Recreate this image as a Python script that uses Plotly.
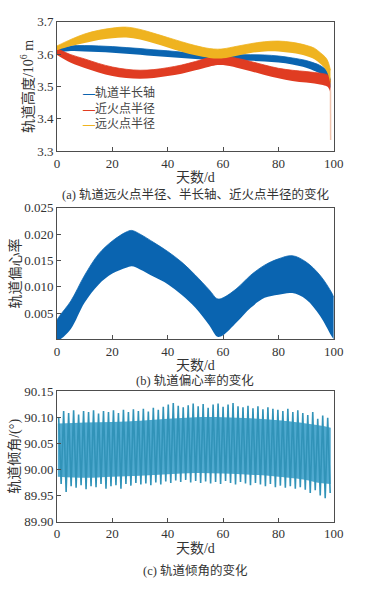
import plotly.graph_objects as go

# ---------------- data ----------------
# Panel (a): orbital radii bands, 10^6 m
a_days = [0, 5, 10, 15, 20, 25, 30, 35, 40, 45, 50, 55, 58, 60, 65, 70, 75, 80, 85, 90, 93, 95, 97, 98, 98.8]
sma_hi = [3.615, 3.625, 3.626, 3.625, 3.623, 3.620, 3.617, 3.613, 3.610, 3.606, 3.603, 3.600, 3.598,
          3.598, 3.598, 3.598, 3.597, 3.594, 3.588, 3.580, 3.572, 3.565, 3.553, 3.540, 3.520]
sma_lo = [3.603, 3.609, 3.608, 3.606, 3.604, 3.601, 3.598, 3.594, 3.591, 3.588, 3.585, 3.582, 3.580,
          3.580, 3.580, 3.579, 3.577, 3.574, 3.568, 3.558, 3.548, 3.540, 3.525, 3.510, 3.495]
peri_hi = [3.617, 3.598, 3.585, 3.571, 3.560, 3.553, 3.550, 3.552, 3.558, 3.566, 3.577, 3.589, 3.593,
           3.593, 3.587, 3.577, 3.566, 3.556, 3.550, 3.546, 3.543, 3.541, 3.538, 3.534, 3.515]
peri_lo = [3.597, 3.573, 3.557, 3.543, 3.532, 3.526, 3.524, 3.526, 3.532, 3.539, 3.550, 3.561, 3.566,
           3.566, 3.558, 3.547, 3.535, 3.525, 3.517, 3.512, 3.509, 3.506, 3.502, 3.497, 3.480]
apo_hi = [3.625, 3.645, 3.662, 3.673, 3.680, 3.683, 3.676, 3.664, 3.651, 3.638, 3.626, 3.617, 3.615,
          3.616, 3.624, 3.632, 3.638, 3.640, 3.636, 3.627, 3.618, 3.605, 3.590, 3.575, 3.550]
apo_lo = [3.612, 3.625, 3.634, 3.643, 3.649, 3.651, 3.645, 3.633, 3.620, 3.607, 3.596, 3.588, 3.586,
          3.587, 3.595, 3.603, 3.608, 3.608, 3.603, 3.594, 3.584, 3.571, 3.553, 3.535, 3.505]
end_days = [98.8, 98.85]
end_vals = [3.49, 3.335]

# Panel (b): eccentricity band
b_days = [0, 1, 5, 10, 15, 20, 25, 27, 30, 35, 40, 45, 50, 55, 58, 60, 65, 70, 75, 80, 85, 90, 95, 99, 100]
ecc_hi = [0.0037, 0.0045, 0.0073, 0.0122, 0.0162, 0.0187, 0.0204, 0.0207, 0.0200, 0.0184, 0.0167,
          0.0147, 0.0122, 0.0094, 0.0077, 0.0079, 0.0097, 0.0122, 0.0141, 0.0153, 0.0159, 0.0147,
          0.0122, 0.0091, 0.0080]
ecc_lo = [0.0000, 0.0000, 0.0020, 0.0070, 0.0104, 0.0125, 0.0136, 0.0139, 0.0133, 0.0119, 0.0105,
          0.0085, 0.0060, 0.0027, 0.0005, 0.0008, 0.0033, 0.0060, 0.0079, 0.0085, 0.0088, 0.0076,
          0.0045, 0.0008, 0.0000]

# Panel (c): inclination oscillation extremes (deg) and dense body of the trace
inc_peak_days = [0.6, 2.4, 4.2, 6.0, 7.8, 9.6, 11.4, 13.2, 15.0, 16.8,
                 18.6, 20.4, 22.2, 24.0, 25.8, 27.6, 29.4, 31.2, 33.0, 34.8,
                 36.6, 38.4, 40.2, 42.0, 43.8, 45.6, 47.4, 49.2, 51.0, 52.8,
                 54.6, 56.4, 58.2, 60.0, 61.8, 63.6, 65.4, 67.2, 69.0, 70.8,
                 72.6, 74.4, 76.2, 78.0, 79.8, 81.6, 83.4, 85.2, 87.0, 88.8,
                 90.6, 92.4, 94.2, 96.0, 97.8]
inc_peak_vals = [90.100, 90.112, 90.108, 90.113, 90.105, 90.112, 90.110, 90.113, 90.107, 90.112,
                 90.110, 90.113, 90.108, 90.114, 90.110, 90.115, 90.112, 90.116, 90.111, 90.118,
                 90.114, 90.120, 90.124, 90.127, 90.122, 90.119, 90.123, 90.126, 90.121, 90.125,
                 90.118, 90.124, 90.126, 90.120, 90.124, 90.127, 90.121, 90.119, 90.122, 90.117,
                 90.121, 90.115, 90.119, 90.116, 90.114, 90.112, 90.116, 90.110, 90.113, 90.108,
                 90.104, 90.110, 90.097, 90.103, 90.099]
inc_trough_days = [1.5, 3.3, 5.1, 6.9, 8.7, 10.5, 12.3, 14.1, 15.9, 17.7,
                   19.5, 21.3, 23.1, 24.9, 26.7, 28.5, 30.3, 32.1, 33.9, 35.7,
                   37.5, 39.3, 41.1, 42.9, 44.7, 46.5, 48.3, 50.1, 51.9, 53.7,
                   55.5, 57.3, 59.1, 60.9, 62.7, 64.5, 66.3, 68.1, 69.9, 71.7,
                   73.5, 75.3, 77.1, 78.9, 80.7, 82.5, 84.3, 86.1, 87.9, 89.7,
                   91.5, 93.3, 95.1, 96.9, 98.7]
inc_trough_vals = [89.972, 89.957, 89.968, 89.965, 89.970, 89.962, 89.968, 89.966, 89.972, 89.963,
                   89.968, 89.970, 89.963, 89.972, 89.969, 89.974, 89.971, 89.973, 89.970, 89.975,
                   89.971, 89.977, 89.974, 89.979, 89.976, 89.980, 89.975, 89.978, 89.974, 89.977,
                   89.973, 89.976, 89.972, 89.978, 89.974, 89.971, 89.976, 89.973, 89.970, 89.974,
                   89.971, 89.968, 89.972, 89.966, 89.969, 89.965, 89.968, 89.963, 89.966, 89.961,
                   89.955, 89.960, 89.950, 89.945, 89.955]
inc_body_days = [0.3, 10, 20, 30, 40, 50, 60, 70, 80, 90, 95, 98.9]
inc_body_hi = [90.088, 90.090, 90.091, 90.093, 90.097, 90.100, 90.100, 90.098, 90.094, 90.088, 90.084, 90.080]
inc_body_lo = [89.986, 89.984, 89.986, 89.988, 89.991, 89.993, 89.992, 89.990, 89.986, 89.980, 89.974, 89.972]

x_ticks = [0, 20, 40, 60, 80, 100]
a_ticks = [3.3, 3.4, 3.5, 3.6, 3.7]
b_ticks = [0.005, 0.010, 0.015, 0.020, 0.025]
c_ticks = [89.90, 89.95, 90.00, 90.05, 90.10, 90.15]
legend_names = ["轨道半长轴", "近火点半径", "远火点半径"]

# ---------------- styling ----------------
BLUE = "#0a64b0"
RED = "#e03c22"
YELLOW = "#efb320"
TEAL_BODY = "#4fa9cf"
TEAL_LINE = "#3193b8"
FONT = "Liberation Serif, Noto Sans CJK SC, serif"
TXT = "#333333"
AX = "#4d4d4d"

fig = go.Figure()


def band(days, lo, hi, color, xa, ya, edge=0.8):
    fig.add_trace(go.Scatter(x=days, y=lo, mode="lines", line=dict(width=0, color=color, shape="spline"),
                             showlegend=False, hoverinfo="skip", xaxis=xa, yaxis=ya))
    fig.add_trace(go.Scatter(x=days, y=hi, mode="lines", line=dict(width=edge, color=color, shape="spline"),
                             fill="tonexty", fillcolor=color, showlegend=False, hoverinfo="skip",
                             xaxis=xa, yaxis=ya))


band(a_days, sma_lo, sma_hi, BLUE, "x", "y")
band(a_days, peri_lo, peri_hi, RED, "x", "y")
band(a_days, apo_lo, apo_hi, YELLOW, "x", "y")
fig.add_trace(go.Scatter(x=end_days, y=end_vals, mode="lines", line=dict(width=1.5, color="#efc3ad"),
                         showlegend=False, hoverinfo="skip", xaxis="x", yaxis="y"))

band(b_days, ecc_lo, ecc_hi, BLUE, "x2", "y2")

band(inc_body_days, inc_body_lo, inc_body_hi, TEAL_BODY, "x3", "y3", edge=0)
pts = sorted(zip(inc_peak_days + inc_trough_days, inc_peak_vals + inc_trough_vals))
fig.add_trace(go.Scatter(x=[p[0] for p in pts], y=[p[1] for p in pts], mode="lines",
                         line=dict(color=TEAL_LINE, width=1.6), showlegend=False, hoverinfo="skip",
                         xaxis="x3", yaxis="y3"))

W, H = 365, 595
L, R = 56, 343
xdom = [L / W, R / W]


def ydom(top, bot):
    return [(H - bot) / H, (H - top) / H]


common = dict(showline=True, linecolor=AX, linewidth=1, mirror=True, ticks="inside", ticklen=4,
              tickcolor=AX, showgrid=False, zeroline=False,
              tickfont=dict(family=FONT, size=13, color=TXT))
xcommon = dict(common, range=[0, 100], tickvals=x_ticks, domain=xdom,
               title=dict(text="天数/d", font=dict(family=FONT, size=14, color=TXT), standoff=2))

fig.update_layout(
    width=W, height=H, margin=dict(l=0, r=0, t=0, b=0),
    paper_bgcolor="white", plot_bgcolor="white", showlegend=False,
    xaxis=dict(xcommon, anchor="y"),
    yaxis=dict(common, domain=ydom(15, 148), range=[3.3, 3.7], tickvals=a_ticks, tickformat=".1f",
               anchor="x",
               title=dict(text="轨道高度/10<sup>6</sup> m", font=dict(family=FONT, size=14, color=TXT),
                          standoff=0)),
    xaxis2=dict(xcommon, anchor="y2"),
    yaxis2=dict(common, domain=ydom(206, 341), range=[0, 0.025], tickvals=b_ticks, tickformat=".3f",
                anchor="x2",
                title=dict(text="轨道偏心率", font=dict(family=FONT, size=14, color=TXT), standoff=0)),
    xaxis3=dict(xcommon, anchor="y3"),
    yaxis3=dict(common, domain=ydom(394, 528), range=[89.90, 90.15], tickvals=c_ticks, tickformat=".2f",
                anchor="x3",
                title=dict(text="轨道倾角/(°)", font=dict(family=FONT, size=14, color=TXT), standoff=1)),
)

# legend of panel (a): short coloured line + name, one row per series (single text block)
legend_text = "<br>".join(f"<span style='color:{col}'><b>—</b></span>{name}"
                          for name, col in zip(legend_names, [BLUE, RED, YELLOW]))
fig.add_annotation(text=legend_text, xref="paper", yref="paper", x=80 / W, y=(H - 104) / H,
                   xanchor="left", yanchor="middle", align="left", showarrow=False,
                   font=dict(family=FONT, size=12, color="#444444"))

cx = (L + R) / 2 / W
captions = [("(a) 轨道远火点半径、半长轴、近火点半径的变化", 192),
            ("(b) 轨道偏心率的变化", 383),
            ("(c) 轨道倾角的变化", 578)]
for text, ypx in captions:
    fig.add_annotation(text=text, xref="paper", yref="paper", x=cx, y=(H - ypx) / H, showarrow=False,
                       xanchor="center", yanchor="middle", font=dict(family=FONT, size=12.5, color=TXT))

fig.write_html("out.html", config={"displayModeBar": False},
               post_script="document.body.style.margin='0';document.body.style.overflow='hidden';")
